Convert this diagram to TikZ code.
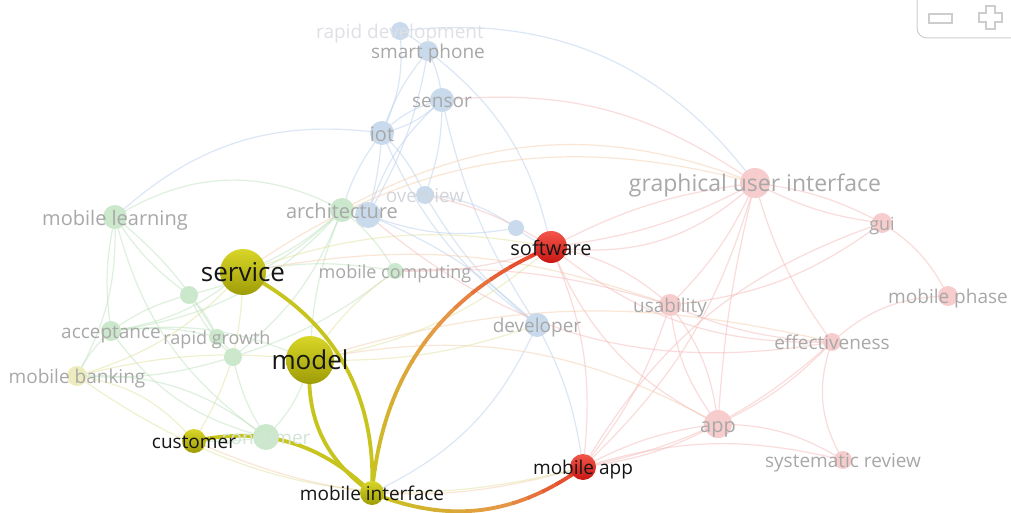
\documentclass[tikz,border=0pt]{standalone}
\usepackage{fontspec}
\setmainfont{Open Sans}
\usetikzlibrary{backgrounds}

\definecolor{hiyel}{RGB}{200,196,30}
\definecolor{horange}{RGB}{230,150,72}
\definecolor{hired}{RGB}{230,60,42}
\definecolor{yeltop}{RGB}{216,214,40}
\definecolor{yelbot}{RGB}{158,156,6}
\definecolor{redtop}{RGB}{244,86,74}
\definecolor{redbot}{RGB}{200,22,18}
\definecolor{kwblue}{RGB}{200,218,236}
\definecolor{kwgreen}{RGB}{204,232,204}
\definecolor{kwpink}{RGB}{247,204,204}
\definecolor{kwyel}{RGB}{236,236,190}
\definecolor{lbgray}{RGB}{168,168,168}
\definecolor{lbpale}{RGB}{222,224,230}
\definecolor{lbdark}{RGB}{22,22,22}
\definecolor{eblue}{RGB}{186,208,236}
\definecolor{egreen}{RGB}{190,226,190}
\definecolor{epink}{RGB}{246,186,186}
\definecolor{eyel}{RGB}{226,226,160}
\definecolor{eorange}{RGB}{244,206,170}
\definecolor{ctrl}{RGB}{205,205,205}

\tikzset{
  kw/.style={circle, inner sep=0pt, minimum size=#1},
  hiyel/.style={top color=yeltop, bottom color=yelbot},
  hired/.style={top color=redtop, bottom color=redbot},
  faint/.style={fill=#1, draw=none},
  lab/.style={font=\fontsize{#1}{#1}\selectfont, text=lbgray, inner sep=0pt,
    text height=.72em, text depth=.22em, yshift={-0.28pt*#1}},
  link/.style={line width=1.2pt, draw=#1, draw opacity=.5},
  hilink/.style={line width=3.8pt, draw=#1},
}

\begin{document}
\begin{tikzpicture}[x=1pt, y=-1pt]
\useasboundingbox (0,0) rectangle (1011,513);

% keywords, yellow cluster
\node[kw=46, hiyel] (svc) at (243,272) {};
\node[kw=48, hiyel] (model) at (310,360) {};
\node[kw=24, hiyel] (cust) at (194,441) {};
\node[kw=24, hiyel] (mobint) at (372,493) {};
\node[kw=20, faint=kwyel] (mbank) at (77,376) {};
% red cluster
\node[kw=32, hired] (softw) at (551,247) {};
\node[kw=26, hired] (mapp) at (583,467) {};
\node[kw=30, faint=kwpink] (gui) at (755,183) {};
\node[kw=20, faint=kwpink] (guiterm) at (882,223) {};
\node[kw=20, faint=kwpink] (mphase) at (948,296) {};
\node[kw=22, faint=kwpink] (usab) at (670,305) {};
\node[kw=18, faint=kwpink] (effect) at (832,342) {};
\node[kw=28, faint=kwpink] (app) at (718,424) {};
\node[kw=18, faint=kwpink] (sysrev) at (843,460) {};
% blue cluster
\node[kw=18, faint=kwblue] (rapdev) at (400,31) {};
\node[kw=20, faint=kwblue] (sphone) at (428,51) {};
\node[kw=24, faint=kwblue] (sensor) at (442,100) {};
\node[kw=24, faint=kwblue] (iot) at (382,133) {};
\node[kw=18, faint=kwblue] (overv) at (425,195) {};
\node[kw=26, faint=kwblue] (archb) at (368,215) {};
\node[kw=16, faint=kwblue] (blue2) at (516,228) {};
\node[kw=24, faint=kwblue] (devel) at (537,325) {};
% green cluster
\node[kw=24, faint=kwgreen] (mlearn) at (115,217) {};
\node[kw=24, faint=kwgreen] (archg) at (342,210) {};
\node[kw=16, faint=kwgreen] (mcomp) at (395,271) {};
\node[kw=18, faint=kwgreen] (mgreen1) at (189,295) {};
\node[kw=20, faint=kwgreen] (accept) at (111,331) {};
\node[kw=16, faint=kwgreen] (rgrowth) at (217,337) {};
\node[kw=18, faint=kwgreen] (mgreen2) at (233,357) {};
\node[kw=26, faint=kwgreen] (consum) at (266,437) {};

\begin{scope}[on background layer]
  \fill[white] (0,0) rectangle (1011,513);
  % faint co-occurrence links
  \foreach \a/\b/\bend/\col in {
      rapdev/sphone/10/eblue, rapdev/iot/15/eblue, sphone/iot/-10/eblue,
      sphone/sensor/10/eblue, sensor/iot/15/eblue, sensor/iot/-15/eblue,
      iot/archb/5/eblue, iot/archg/-10/eblue, iot/overv/10/eblue,
      iot/devel/-15/eblue, sensor/overv/10/eblue, sensor/archb/-15/eblue,
      sphone/archb/10/eblue, overv/blue2/15/eblue, blue2/softw/-10/eblue,
      archb/blue2/-15/eblue, overv/devel/-10/eblue, devel/mapp/10/eblue,
      archb/devel/10/eblue, sphone/softw/20/eblue, sensor/devel/-10/eblue,
      devel/mobint/20/eblue, iot/mlearn/-25/eblue, rapdev/gui/30/eblue,
      mlearn/accept/-10/egreen, mlearn/mbank/15/egreen, mlearn/archg/30/egreen,
      mlearn/rgrowth/10/egreen, mlearn/consum/-20/egreen, mlearn/mgreen1/-10/egreen,
      accept/rgrowth/10/egreen, accept/mbank/-10/egreen, accept/mgreen1/10/egreen,
      accept/svc/-15/egreen, accept/model/15/egreen, accept/consum/-20/egreen,
      mgreen1/rgrowth/10/egreen, mgreen1/mgreen2/-10/egreen, mgreen1/archg/-15/egreen,
      rgrowth/mgreen2/10/egreen, mgreen2/consum/-10/egreen, archg/mcomp/10/egreen,
      archg/svc/10/egreen, archg/model/-10/egreen, archg/mgreen2/15/egreen,
      archg/accept/20/egreen, mcomp/svc/-10/egreen, mcomp/mgreen2/10/egreen,
      consum/cust/5/egreen, consum/model/-15/egreen, mbank/consum/20/egreen,
      mbank/mgreen2/-10/egreen,
      mbank/cust/20/eyel, mbank/model/10/eyel, mbank/svc/-15/eyel,
      svc/softw/15/eyel, model/softw/-15/eyel, model/app/20/eorange,
      svc/usab/15/eorange, model/effect/15/eorange, cust/mapp/-20/eorange,
      model/devel/-10/eyel, cust/svc/-15/eyel, model/mcomp/10/eyel,
      svc/gui/25/eorange, mbank/mapp/-25/eyel, archg/gui/25/eorange,
      gui/softw/10/epink, gui/softw/-10/epink, gui/softw/25/epink,
      gui/usab/10/epink, gui/app/-5/epink, gui/mapp/15/epink,
      gui/guiterm/-10/epink, gui/guiterm/10/epink, gui/effect/-10/epink,
      guiterm/mphase/15/epink, guiterm/mapp/-20/epink, guiterm/usab/15/epink,
      mphase/effect/-20/epink, effect/app/10/epink, effect/sysrev/-25/epink,
      effect/mapp/15/epink, effect/softw/20/epink, app/sysrev/15/epink,
      app/mapp/10/epink, app/mapp/-10/epink, usab/app/-15/epink,
      usab/app/15/epink, usab/mapp/10/epink, usab/softw/-15/epink,
      softw/app/-20/epink, softw/mapp/15/epink, sysrev/mapp/-15/epink,
      usab/effect/-10/epink, softw/mcomp/10/epink, softw/overv/-10/epink,
      sensor/gui/20/epink, usab/mcomp/-10/epink, effect/archb/25/epink}
    \draw[link=\col] (\a.center) to[bend left=\bend] (\b.center);

  % links of the selected keyword
  \draw[hilink=hiyel] (svc.center) to[bend left=33] (mobint.center);
  \draw[hilink=hiyel] (model.center) to[bend right=30] (mobint.center);
  \draw[hilink=hiyel] (cust.center) to[bend left=28] (mobint.center);
  % colour runs from one end to the other, in wedges round each arc's centre
  \foreach \i in {0,...,13} {
    \ifnum\i<9
      \pgfmathtruncatemacro\mix{100-\i*100/8}
      \colorlet{bandcol}{hiyel!\mix!horange}
    \else
      \pgfmathtruncatemacro\mix{100-(\i-8)*100/5}
      \colorlet{bandcol}{horange!\mix!hired}
    \fi
    \pgfmathsetmacro\lo{\i==0 ? 150 : 183+\i*4.72}
    \pgfmathsetmacro\hi{\i==13 ? 285 : 183+\i*4.72+5}
    \begin{scope}
      \clip (651,508) -- +(\lo:460) -- +(\hi:460) -- cycle;
      \draw[hilink=bandcol] (mobint.center) to[bend left=31] (softw.center);
    \end{scope}
    \pgfmathsetmacro\lo{\i==13 ? 20 : 114.5-\i*4.52-5}
    \pgfmathsetmacro\hi{\i==0 ? 150 : 114.5-\i*4.52}
    \begin{scope}
      \clip (456,309) -- +(\lo:340) -- +(\hi:340) -- cycle;
      \draw[hilink=bandcol] (mobint.center) to[bend right=29] (mapp.center);
    \end{scope}
  }
\end{scope}

% labels
\node[lab=19, text=lbpale] (rapdev-t) at (rapdev) {rapid development};
\node[lab=19] (sphone-t) at (sphone) {smart phone};
\node[lab=19] (sensor-t) at (sensor) {sensor};
\node[lab=20] (iot-t) at (iot) {iot};
\node[lab=19, text=lbpale!80!lbgray] (overv-t) at (overv) {overview};
\node[lab=20] (archg-t) at (archg) {architecture};
\node[lab=19] (devel-t) at (devel) {developer};
\node[lab=20] (mlearn-t) at (mlearn) {mobile learning};
\node[lab=18] (mcomp-t) at (mcomp) {mobile computing};
\node[lab=19] (accept-t) at (accept) {acceptance};
\node[lab=18] (rgrowth-t) at (rgrowth) {rapid growth};
\node[lab=19] (mbank-t) at (mbank) {mobile banking};
\node[lab=19, text=kwgreen!60!lbpale] (consum-t) at (consum) {consumer};
\node[lab=23] (gui-t) at (gui) {graphical user interface};
\node[lab=18] (guiterm-t) at (guiterm) {gui};
\node[lab=19] (mphase-t) at (mphase) {mobile phase};
\node[lab=19] (usab-t) at (usab) {usability};
\node[lab=19] (effect-t) at (effect) {effectiveness};
\node[lab=20] (app-t) at (app) {app};
\node[lab=19] (sysrev-t) at (sysrev) {systematic review};
\node[lab=26, text=lbdark] (svc-t) at (svc) {service};
\node[lab=26, text=lbdark] (model-t) at (model) {model};
\node[lab=19, text=lbdark] (cust-t) at (cust) {customer};
\node[lab=19, text=lbdark] (mobint-t) at (mobint) {mobile interface};
\node[lab=20, text=lbdark] (softw-t) at (softw) {software};
\node[lab=19, text=lbdark] (mapp-t) at (mapp) {mobile app};

% zoom buttons
\draw[ctrl, line width=1pt, rounded corners=10pt] (917,-2) -- (917,38) -- (1014,38);
\draw[ctrl, line width=1.2pt] (929,14) rectangle (952,23);
\draw[ctrl, line width=1.2pt] (986,6) -- (995,6) -- (995,13) -- (1002,13) -- (1002,22)
  -- (995,22) -- (995,29) -- (986,29) -- (986,22) -- (979,22) -- (979,13)
  -- (986,13) -- cycle;
\end{tikzpicture}
\end{document}
